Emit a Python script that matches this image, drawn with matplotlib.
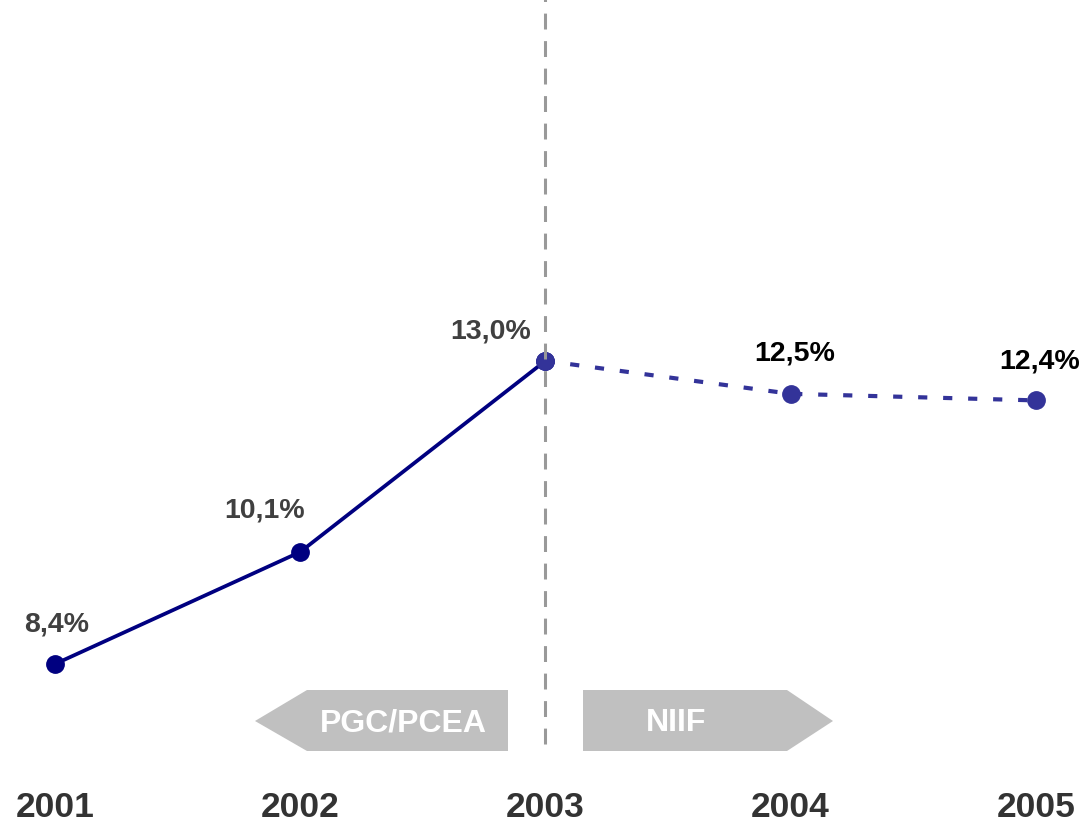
import matplotlib
matplotlib.use("Agg")
import matplotlib.pyplot as plt
from matplotlib.patches import Polygon

years = [2001, 2002, 2003, 2004, 2005]
values = [8.4, 10.1, 13.0, 12.5, 12.4]
value_labels = ["8,4%", "10,1%", "13,0%", "12,5%", "12,4%"]
year_labels = ["2001", "2002", "2003", "2004", "2005"]
period_labels = ["PGC/PCEA", "NIIF"]

W, H = 1083, 829
fig = plt.figure(figsize=(W / 100, H / 100), dpi=100)
ax = fig.add_axes([0, 0, 1, 1])
ax.axis("off")

# pixel mapping
x0_px, x_step = 55, 245.2
v0, y0_px, y_scale = 8.4, 665, 65.9
ax.set_xlim(2001 - x0_px / x_step, 2001 + (W - x0_px) / x_step)
ax.set_ylim(v0 - (H - y0_px) / y_scale, v0 + y0_px / y_scale)

def px(x, y):
    return (2001 + (x - x0_px) / x_step, v0 - (y - y0_px) / y_scale)

font = "Liberation Sans"
navy = "#000080"
blue2 = "#333399"

# solid part
ax.plot(years[:3], values[:3], color=navy, lw=2.7, zorder=3,
        marker="o", markersize=12.5, markerfacecolor=navy, markeredgecolor=navy)
# dashed forecast part
ax.plot(years[2:], values[2:], color=blue2, lw=3, zorder=3,
        linestyle=(0, (2.2, 3.8)), dash_capstyle="butt",
        marker="o", markersize=12.5, markerfacecolor=blue2, markeredgecolor=blue2)

# vertical divider
xt, yb = px(545, 745)
ax.plot([2003, 2003], [yb, ax.get_ylim()[1] + 0.2], color="#999999", lw=2.2,
        linestyle=(0, (5.2, 3.8)), zorder=4)

# value labels
offsets = [(2, 40), (-36, 42), (-55, 30), (4, 41), (4, 40)]
colors = ["#404040", "#404040", "#404040", "#000000", "#000000"]
for x, v, lab, (dx, dy), c in zip(years, values, value_labels, offsets, colors):
    ax.annotate(lab, (x, v), xytext=(dx, dy), textcoords="offset pixels",
                ha="center", va="center", fontsize=20.5, fontweight="bold",
                family=font, color=c, zorder=5)

# period arrows
gray = "#c0c0c0"
left = [px(255, 722), px(307, 691), px(508, 691), px(508, 752), px(307, 752)]
right = [px(583, 691), px(787, 691), px(833, 722), px(787, 752), px(583, 752)]
ax.add_patch(Polygon(left, closed=True, facecolor=gray, edgecolor="none", zorder=2))
ax.add_patch(Polygon(right, closed=True, facecolor=gray, edgecolor="none", zorder=2))
tx, ty = px(403, 723)
ax.text(tx, ty, period_labels[0], ha="center", va="center", fontsize=23,
        fontweight="bold", color="white", family=font, zorder=3)
tx, ty = px(676, 723)
ax.text(tx, ty, period_labels[1], ha="center", va="center", fontsize=23,
        fontweight="bold", color="white", family=font, zorder=3)

# year labels
_, ylab = px(0, 808)
for x, lab in zip(years, year_labels):
    ax.text(x, ylab, lab, ha="center", va="center", fontsize=25.5,
            fontweight="bold", color="#333333", family=font)

fig.savefig("out.png", dpi=100)
